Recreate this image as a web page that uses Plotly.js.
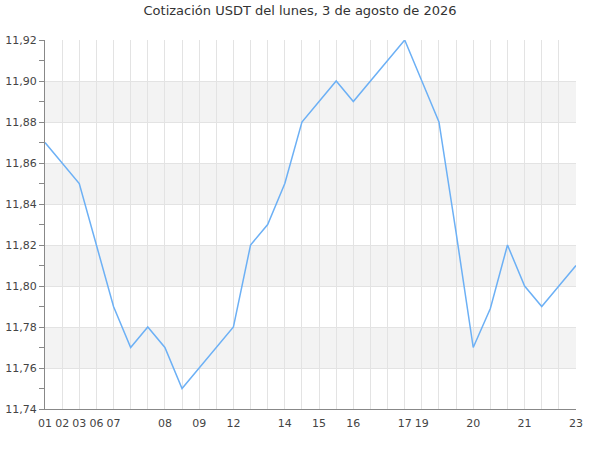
<!DOCTYPE html>
<html>
<head>
<meta charset="utf-8">
<script src="https://cdn.plot.ly/plotly-3.0.1.min.js"></script>
<style>html,body{margin:0;padding:0;background:#fff}#chart{width:600px;height:450px}</style>
</head>
<body>
<div id="chart"></div>
<script>
const titleText = "Cotización USDT del lunes, 3 de agosto de 2026";
const values = [11.87, 11.86, 11.85, 11.82, 11.79, 11.77, 11.78, 11.77, 11.75, 11.76,
                11.77, 11.78, 11.82, 11.83, 11.85, 11.88, 11.89, 11.90, 11.89, 11.90,
                11.91, 11.92, 11.90, 11.88, 11.826, 11.77, 11.789, 11.82, 11.80, 11.79,
                11.80, 11.81];
const tickPositions = [0, 1, 2, 3, 4, 7, 9, 11, 14, 16, 18, 21, 22, 25, 28, 31];
const tickLabels = ["01", "02", "03", "06", "07", "08", "09", "12", "14", "15", "16", "17", "19", "20", "21", "23"];
const bandStarts = [11.76, 11.80, 11.84, 11.88];
const bandSize = 0.02;

const xs = values.map((_, i) => i);

const shapes = bandStarts.map(b => ({
  type: "rect", xref: "paper", yref: "y", x0: 0, x1: 1, y0: b, y1: b + bandSize,
  fillcolor: "#f3f3f3", line: {width: 0}, layer: "below"
}));

const data = [{
  x: xs, y: values, type: "scatter", mode: "lines",
  line: {color: "#6cb0f5", width: 1.5},
  hoverinfo: "skip"
}];

const layout = {
  width: 600, height: 450,
  margin: {l: 45, r: 24, t: 40, b: 41},
  paper_bgcolor: "#fff", plot_bgcolor: "rgba(0,0,0,0)",
  separators: ",.",
  font: {family: "DejaVu Sans, sans-serif", size: 11, color: "#444"},
  title: {text: titleText, font: {family: "DejaVu Sans, sans-serif", size: 13, color: "#333"}, x: 0.5, xanchor: "center", y: 0.988, yanchor: "top"},
  showlegend: false,
  shapes: shapes,
  xaxis: {
    range: [0, 31], tickmode: "array", tickvals: tickPositions, ticktext: tickLabels,
    showgrid: true, gridcolor: "#e3e3e3", gridwidth: 1,
    minor: {dtick: 1, tick0: 0, showgrid: true, gridcolor: "#e3e3e3", gridwidth: 1},
    showline: true, linecolor: "#888", linewidth: 1,
    ticks: "outside", ticklen: 4, tickcolor: "rgba(0,0,0,0)", zeroline: false, fixedrange: true,
    tickfont: {size: 11, color: "#444"}
  },
  yaxis: {
    range: [11.74, 11.92], tickmode: "linear", tick0: 11.74, dtick: 0.02, tickformat: ".2f",
    showgrid: true, gridcolor: "#e3e3e3", gridwidth: 1,
    showline: true, linecolor: "#888", linewidth: 1,
    ticks: "outside", ticklen: 5, tickcolor: "#888",
    minor: {dtick: 0.01, tick0: 11.74, ticks: "outside", ticklen: 5, tickcolor: "#888", showgrid: false},
    zeroline: false, fixedrange: true,
    tickfont: {size: 11, color: "#444"}
  }
};

Plotly.newPlot("chart", data, layout, {displayModeBar: false, staticPlot: true});
</script>
</body>
</html>
